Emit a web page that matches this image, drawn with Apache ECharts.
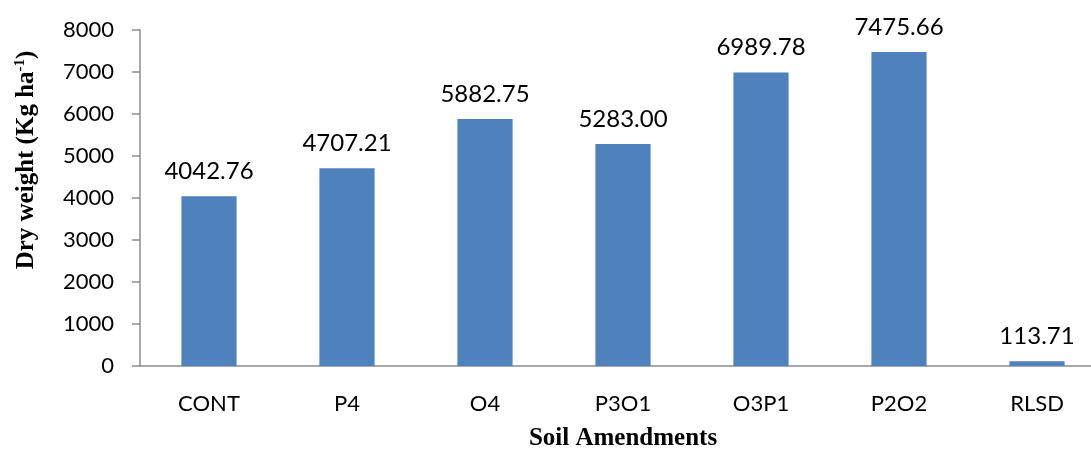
<!DOCTYPE html>
<html>
<head>
<meta charset="utf-8">
<script src="https://cdn.jsdelivr.net/npm/echarts@6/dist/echarts.min.js"></script>
<style>
  html, body { margin: 0; padding: 0; background: #ffffff; overflow: hidden; }
  #chart { width: 1091px; height: 449px; }
</style>
</head>
<body>
<div id="chart"></div>
<script>
// Dry weight by soil amendment treatment
const categories = ['CONT', 'P4', 'O4', 'P3O1', 'O3P1', 'P2O2', 'RLSD'];
const dryWeight = [4042.76, 4707.21, 5882.75, 5283.00, 6989.78, 7475.66, 113.71];
const yTicks = { min: 0, max: 8000, interval: 1000 };

const labelFont = 'Lato, "Open Sans", sans-serif';
const titleFont = '"Liberation Serif", "Times New Roman", serif';

const chart = echarts.init(document.getElementById('chart'), null, {
  renderer: 'canvas', width: 1091, height: 449
});

chart.setOption({
  animation: false,
  backgroundColor: '#ffffff',
  // plot area runs slightly past the right edge of the canvas
  grid: { left: 140, right: -15, top: 30, bottom: 83, containLabel: false, outerBoundsMode: 'none' },
  xAxis: {
    type: 'category',
    data: categories,
    name: 'Soil Amendments',
    nameLocation: 'middle',
    nameGap: 60,
    nameTextStyle: { fontFamily: titleFont, fontWeight: 'bold', fontSize: 25, color: '#000' },
    axisLine: { show: true, lineStyle: { color: '#8c8c8c', width: 1.5 } },
    axisTick: { show: false },
    axisLabel: { fontFamily: labelFont, fontSize: 22, color: '#000', margin: 27 },
    splitLine: { show: false }
  },
  yAxis: {
    type: 'value',
    min: yTicks.min,
    max: yTicks.max,
    interval: yTicks.interval,
    name: '{t|Dry weight (Kg ha}{s|-1}{t|)}',
    nameLocation: 'middle',
    nameGap: 100,
    nameRotate: 90,
    nameTextStyle: {
      padding: [0, 0, 0, 76],
      rich: {
        t: { fontFamily: titleFont, fontWeight: 'bold', fontSize: 25, color: '#000' },
        s: { fontFamily: titleFont, fontWeight: 'bold', fontSize: 15, color: '#000', verticalAlign: 'top', padding: [0, 0, 12, 0] }
      }
    },
    axisLine: { show: true, lineStyle: { color: '#8c8c8c', width: 1.5 } },
    axisTick: { show: true, inside: false, length: 8, lineStyle: { color: '#8c8c8c', width: 1.5 } },
    axisLabel: {
      fontFamily: labelFont, fontSize: 22, color: '#000', margin: 26,
      formatter: v => String(v)
    },
    splitLine: { show: false }
  },
  series: [{
    type: 'bar',
    data: dryWeight,
    barCategoryGap: '60%',
    itemStyle: { color: '#4f81bd' },
    label: {
      show: true,
      position: 'top',
      distance: 13,
      fontFamily: labelFont,
      fontSize: 24,
      color: '#000',
      formatter: p => p.value.toFixed(2)
    }
  }]
});
</script>
</body>
</html>
